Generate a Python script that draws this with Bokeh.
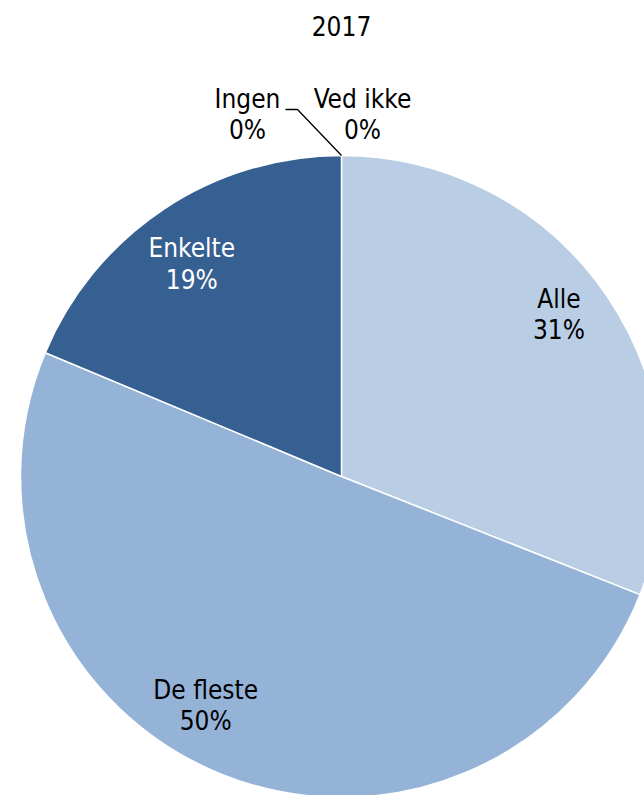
import numpy as np
from bokeh.plotting import figure
from bokeh.models import Range1d, ColumnDataSource
from bokeh.embed import file_html
from bokeh.resources import INLINE
from bokeh.core.properties import value

# ---- data ----
title_text = "2017"
categories = ["Alle", "De fleste", "Enkelte", "Ingen", "Ved ikke"]
shares = [31.0, 50.3, 18.7, 0.0, 0.0]
pct_labels = ["31%", "50%", "19%", "0%", "0%"]

# ---- style / layout ----
colors = ["#B9CDE5", "#95B3D7", "#376092", "#254061", "#7F7F7F"]
text_colors = ["black", "black", "white", "black", "black"]
FONT = "DejaVu Sans Condensed"
FS = "26px"

W, H = 644, 795
PAGE_H = 795


def py(page_y):
    return PAGE_H - page_y


cx, cy = 341, py(476)
R = 321

p = figure(width=W, height=H, output_backend="svg", toolbar_location=None,
           x_range=Range1d(0, W), y_range=Range1d(PAGE_H - H, PAGE_H),
           min_border=0)
p.axis.visible = False
p.grid.visible = False
p.outline_line_color = None
p.background_fill_color = "white"

fr = np.array(shares) / sum(shares)
cum = np.concatenate([[0], np.cumsum(fr)])
start = np.pi / 2 - 2 * np.pi * cum[:-1]
end = np.pi / 2 - 2 * np.pi * cum[1:]

mask = fr > 0
src = ColumnDataSource(dict(start=start[mask], end=end[mask],
                            color=[c for c, m in zip(colors, mask) if m]))
p.wedge(x=cx, y=cy, radius=R, start_angle="start", end_angle="end",
        direction="clock", fill_color="color", line_color="white",
        line_width=1.5, source=src)

# inside label placement: radial fraction and angle nudge (degrees, clockwise)
label_r = [0.845, 0.83, 0.81]
label_nudge = [-2.5, 8.5, -1.5]
lx, ly, ltxt, lcol = [], [], [], []
for i in range(3):
    mid = (cum[i] + cum[i + 1]) / 2 * 360 + label_nudge[i]
    a = np.radians(mid)
    lx.append(cx + label_r[i] * R * np.sin(a))
    ly.append(cy + label_r[i] * R * np.cos(a))
    ltxt.append(categories[i] + "\n" + pct_labels[i])
    lcol.append(text_colors[i])

# outside labels for the zero slices (offsets from pie top)
out_off = [(-94, 362), (21, 362)]
for k, i in enumerate([3, 4]):
    lx.append(cx + out_off[k][0])
    ly.append(cy + out_off[k][1])
    ltxt.append(categories[i] + "\n" + pct_labels[i])
    lcol.append(text_colors[i])

lsrc = ColumnDataSource(dict(x=lx, y=ly, text=ltxt, color=lcol))
p.text(x="x", y="y", text="text", text_color="color", source=lsrc,
       text_align="center", text_baseline="middle",
       text_font=value(FONT), text_font_size=FS, text_line_height=1.05)

# leader line from "Ingen" label to pie top
top_x, top_y = cx, cy + R
p.line(x=[cx - 56, cx - 44, top_x], y=[top_y + 46, top_y + 46, top_y],
       line_color="black", line_width=1.3)

# title
p.text(x=[cx], y=[py(25)], text=[title_text], text_align="center",
       text_baseline="middle", text_font=value(FONT), text_font_size=FS,
       text_color="black")

open("out.html", "w").write(file_html(p, INLINE))
